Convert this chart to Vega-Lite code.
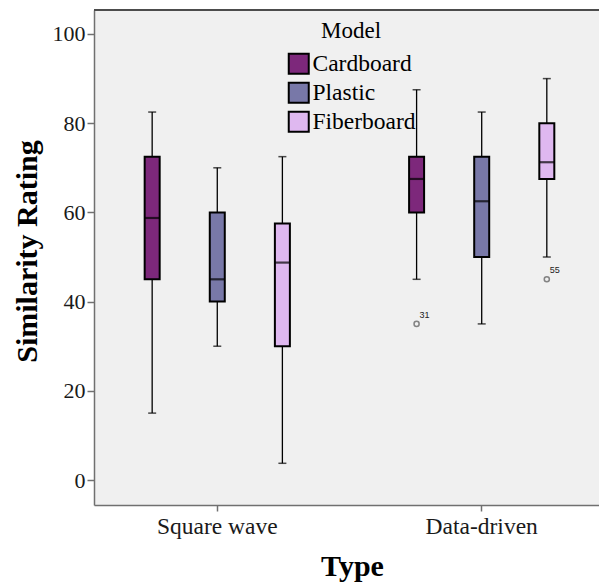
{
  "$schema": "https://vega.github.io/schema/vega-lite/v6.json",
  "autosize": {"type": "none"},
  "width": 505,
  "height": 495,
  "padding": {"left": 94, "top": 10, "right": 0, "bottom": 77},
  "background": "white",
  "config": {
    "view": {"fill": "#f0f0f0", "stroke": null},
    "font": "Liberation Serif",
    "axis": {"grid": false, "domainColor": "#707070", "domainWidth": 1.5, "tickColor": "#707070", "tickWidth": 1.5, "labelFont": "Liberation Serif", "labelFontSize": 22, "labelColor": "#1a1a1a", "titleFont": "Liberation Serif", "titleFontSize": 30, "titleFontWeight": "bold", "titleColor": "black"}
  },
  "datasets": {
    "boxes": [
      {"Type": "Square wave", "Model": "Cardboard", "lower": 15, "q1": 45, "median": 58.75, "q3": 72.5, "upper": 82.5},
      {"Type": "Square wave", "Model": "Plastic", "lower": 30, "q1": 40, "median": 45, "q3": 60, "upper": 70},
      {"Type": "Square wave", "Model": "Fiberboard", "lower": 3.75, "q1": 30, "median": 48.75, "q3": 57.5, "upper": 72.5},
      {"Type": "Data-driven", "Model": "Cardboard", "lower": 45, "q1": 60, "median": 67.5, "q3": 72.5, "upper": 87.5},
      {"Type": "Data-driven", "Model": "Plastic", "lower": 35, "q1": 50, "median": 62.5, "q3": 72.5, "upper": 82.5},
      {"Type": "Data-driven", "Model": "Fiberboard", "lower": 50, "q1": 67.5, "median": 71.25, "q3": 80, "upper": 90}
    ],
    "outliers": [
      {"Type": "Data-driven", "Model": "Cardboard", "value": 35, "case": "31"},
      {"Type": "Data-driven", "Model": "Fiberboard", "value": 45, "case": "55"}
    ]
  },
  "data": {"name": "boxes"},
  "encoding": {
    "x": {
      "field": "Type", "type": "nominal", "title": "Type",
      "sort": ["Square wave", "Data-driven"],
      "scale": {"paddingInner": 0.2, "paddingOuter": 0.0549, "align": 0.603},
      "axis": {"labelAngle": 0, "tickSize": 6, "labelPadding": 3, "labelFontSize": 23.5, "titleX": 258, "titleY": 70, "titleBaseline": "alphabetic"}
    },
    "xOffset": {
      "field": "Model", "type": "nominal",
      "sort": ["Cardboard", "Plastic", "Fiberboard"],
      "scale": {"paddingInner": 0, "paddingOuter": 0.1245}
    }
  },
  "layer": [
    {
      "mark": {"type": "rule", "color": "#4d4d4d", "strokeWidth": 1.5, "clip": false},
      "encoding": {"y": {"datum": 105.38, "type": "quantitative"}, "x": null, "xOffset": null}
    },
    {
      "mark": {"type": "rule", "color": "black", "strokeWidth": 1.3},
      "encoding": {
        "y": {
          "field": "lower", "type": "quantitative", "title": "Similarity Rating",
          "scale": {"domain": [-5.6, 105.38], "nice": false, "zero": false},
          "axis": {"values": [0, 20, 40, 60, 80, 100], "tickSize": 7, "labelPadding": 2, "titleX": -58, "titleY": 241, "titleAngle": -90, "titleAlign": "center", "titleBaseline": "alphabetic"}
        },
        "y2": {"field": "upper"}
      }
    },
    {
      "mark": {"type": "tick", "color": "black", "size": 8, "thickness": 1.5},
      "encoding": {"y": {"field": "lower", "type": "quantitative"}}
    },
    {
      "mark": {"type": "tick", "color": "black", "size": 8, "thickness": 1.5},
      "encoding": {"y": {"field": "upper", "type": "quantitative"}}
    },
    {
      "mark": {"type": "bar", "width": 15, "stroke": "black", "strokeWidth": 2},
      "encoding": {
        "y": {"field": "q1", "type": "quantitative"},
        "y2": {"field": "q3"},
        "fill": {
          "field": "Model", "type": "nominal",
          "scale": {"domain": ["Cardboard", "Plastic", "Fiberboard"], "range": ["#7d287b", "#7878a8", "#dfb8f0"]},
          "legend": {
            "orient": "none", "legendX": 193, "legendY": 10, "title": "Model",
            "titleFont": "Liberation Serif", "titleFontSize": 23, "titleFontWeight": "normal", "titleColor": "black",
            "titleAnchor": "middle", "titlePadding": 9,
            "symbolType": "square", "symbolSize": 400, "symbolStrokeColor": "black", "symbolStrokeWidth": 2,
            "labelFont": "Liberation Serif", "labelFontSize": 23.5, "labelColor": "black", "labelOffset": 2,
            "rowPadding": 0, "padding": 0
          }
        }
      }
    },
    {
      "mark": {"type": "tick", "color": "black", "size": 15, "thickness": 2.2},
      "encoding": {"y": {"field": "median", "type": "quantitative"}}
    },
    {
      "data": {"name": "outliers"},
      "mark": {"type": "point", "shape": "circle", "filled": false, "size": 26, "stroke": "#555555", "strokeWidth": 1.5},
      "encoding": {"y": {"field": "value", "type": "quantitative"}}
    },
    {
      "data": {"name": "outliers"},
      "mark": {"type": "text", "font": "Liberation Sans", "fontSize": 9, "align": "left", "baseline": "alphabetic", "dx": 3, "dy": -6, "color": "#222222"},
      "encoding": {"y": {"field": "value", "type": "quantitative"}, "text": {"field": "case"}}
    }
  ]
}
